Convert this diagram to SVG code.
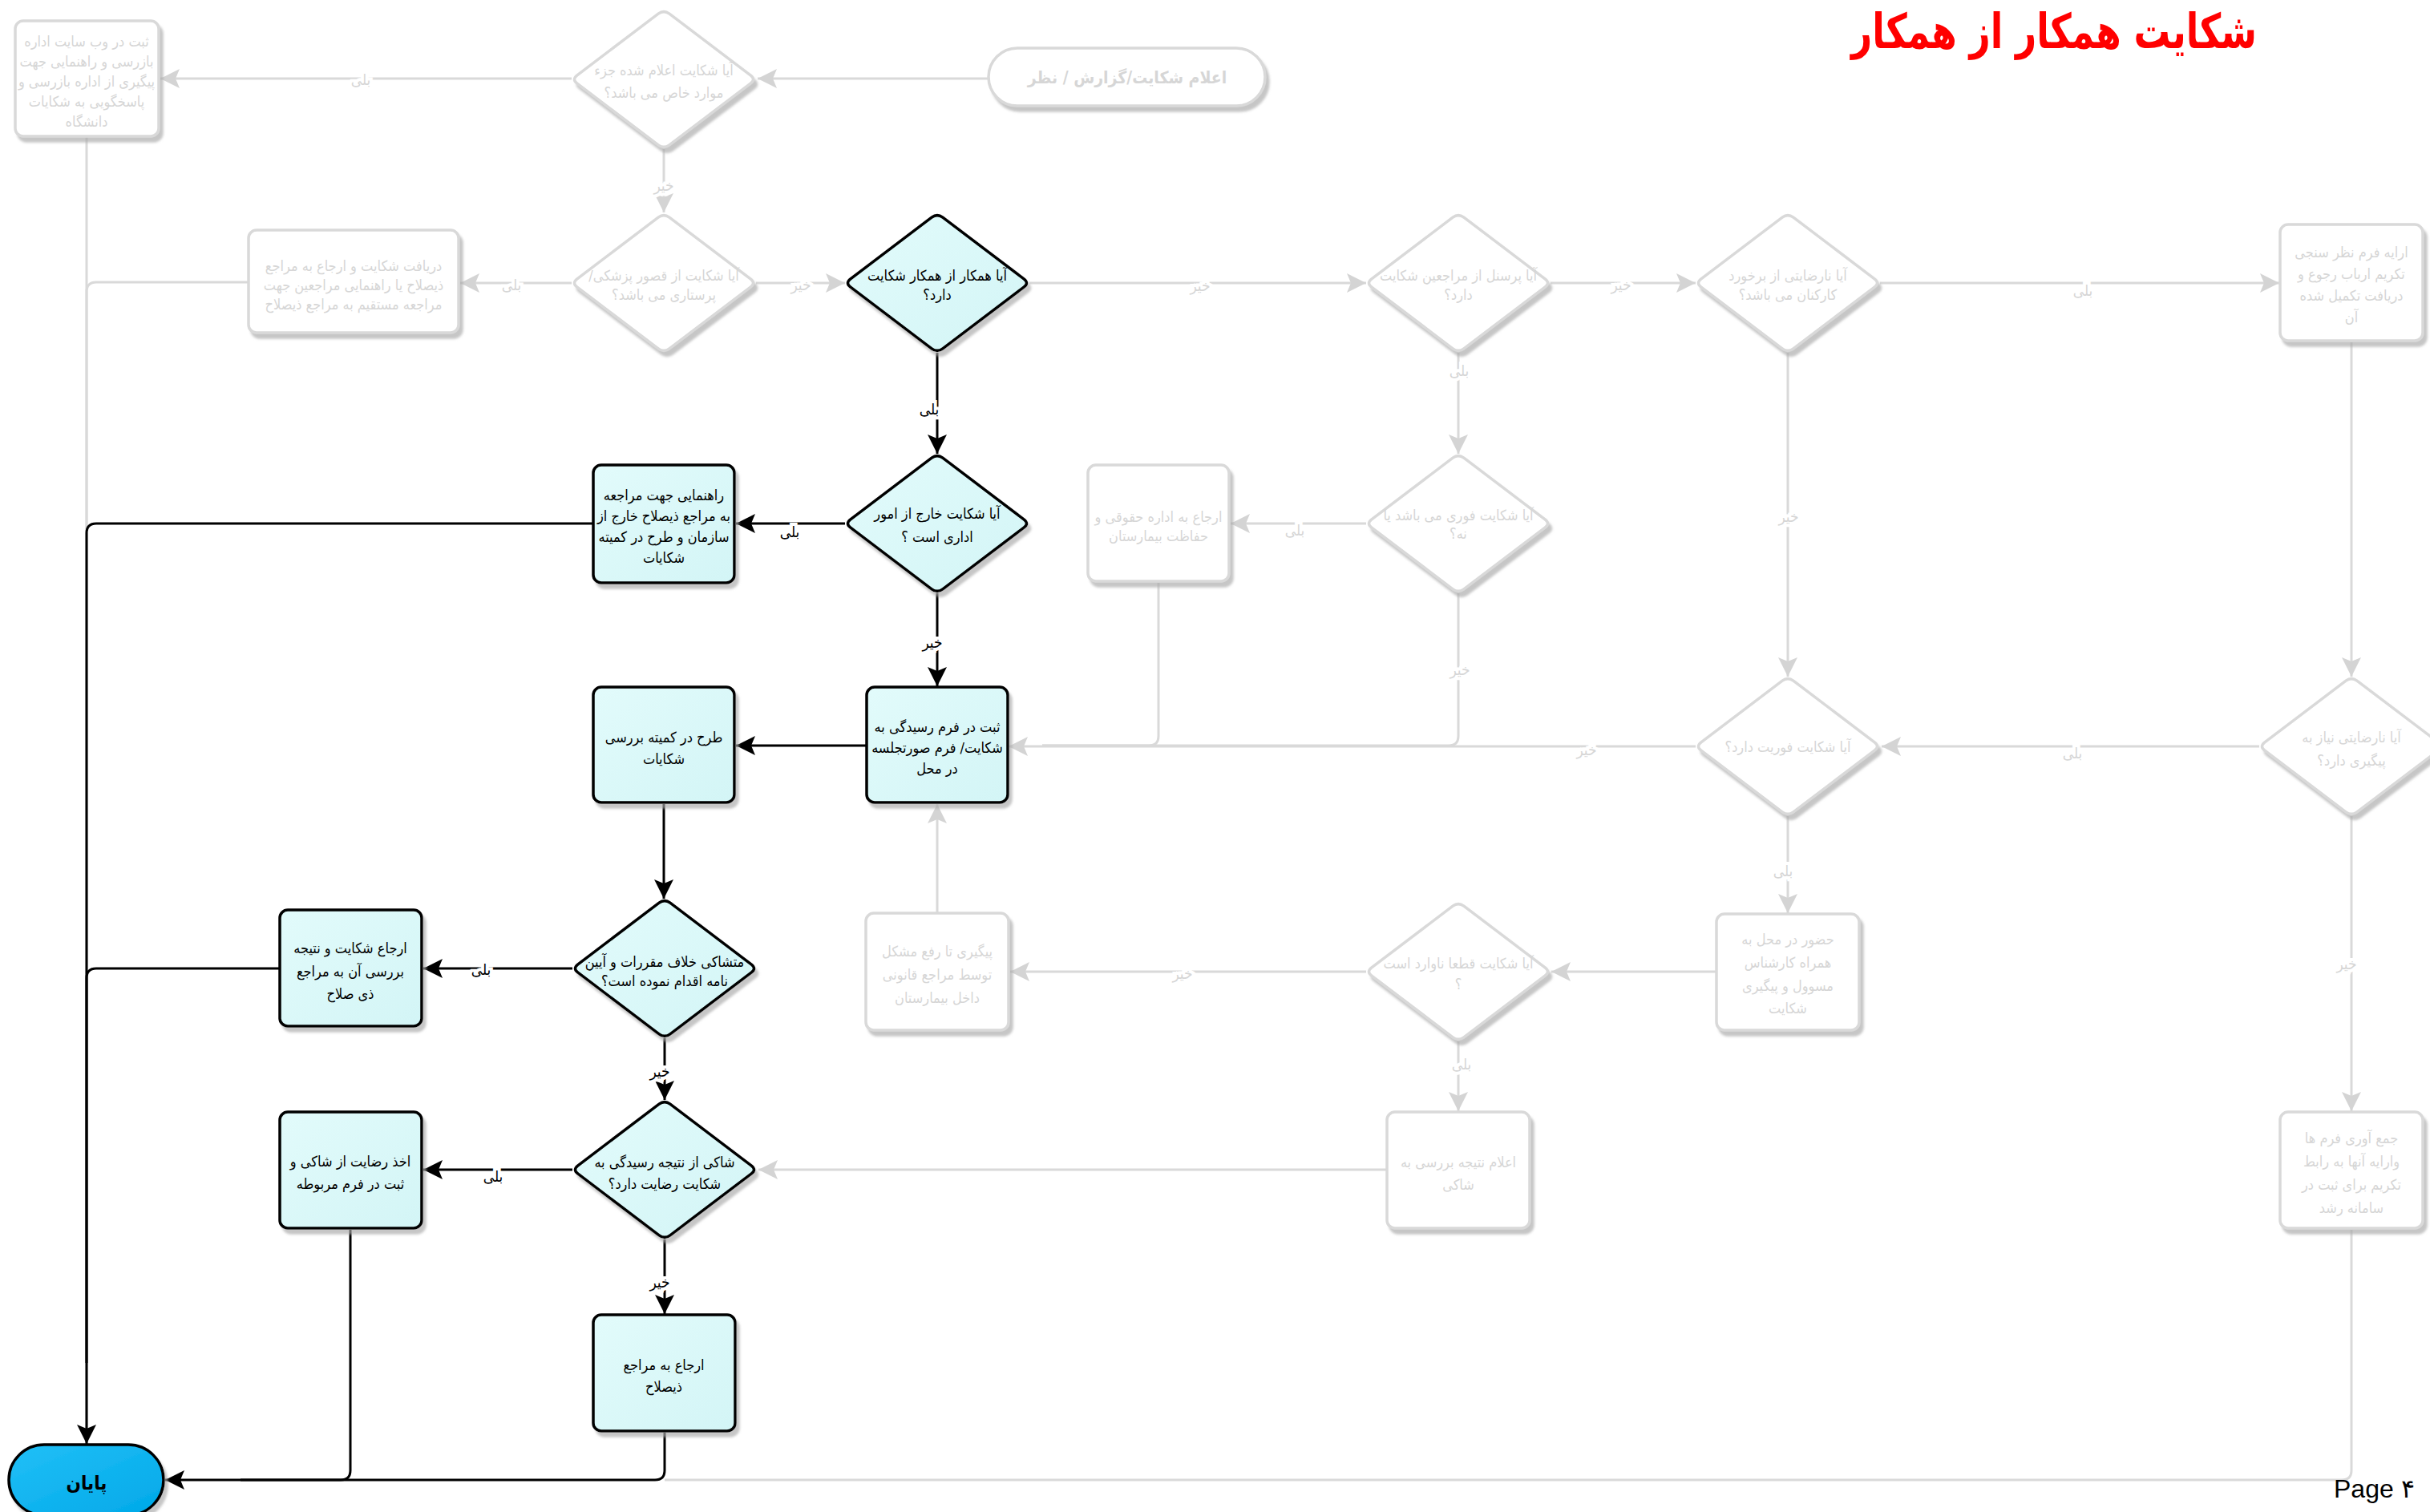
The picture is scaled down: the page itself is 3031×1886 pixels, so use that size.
<svg xmlns="http://www.w3.org/2000/svg" width="3031" height="1886" viewBox="0 0 3031 1886">
<defs>
<style>
text{font-family:'DejaVu Sans Condensed','DejaVu Sans',sans-serif;direction:rtl;text-anchor:middle}
.tb{fill:#000;font-size:18px}
.tg{fill:#d6d6d6;font-size:18px}
.lb{fill:#000;font-size:19px;stroke:#fff;stroke-width:8;paint-order:stroke}
.lg{fill:#d6d6d6;font-size:19px;stroke:#fff;stroke-width:8;paint-order:stroke}
.nb{fill:url(#cy);stroke:#000;stroke-width:3.5;filter:url(#sh)}
.ng{fill:#fff;stroke:#d9d9d9;stroke-width:3.5;filter:url(#sh)}
.cg{fill:none;stroke:#d9d9d9;stroke-width:3}
.cb{fill:none;stroke:#000;stroke-width:3}
</style>
<linearGradient id="cy" x1="0" y1="0" x2="1" y2="1"><stop offset="0" stop-color="#e2fbfb"/><stop offset="1" stop-color="#d3f5f6"/></linearGradient>
<linearGradient id="bl" x1="0" y1="0" x2="1" y2="1"><stop offset="0" stop-color="#22c0f7"/><stop offset="1" stop-color="#00a8e8"/></linearGradient>
<filter id="sh" x="-10%" y="-10%" width="130%" height="130%"><feDropShadow dx="4" dy="6" stdDeviation="1.5" flood-color="#a8a8a8" flood-opacity="0.65"/></filter>
<path id="dia" d="M6.9,-81.8 L108.1,-5.2 Q115,0 108.1,5.2 L6.9,81.8 Q0,87 -6.9,81.8 L-108.1,5.2 Q-115,0 -108.1,-5.2 L-6.9,-81.8 Q0,-87 6.9,-81.8 Z"/>
<marker id="ab" markerUnits="userSpaceOnUse" markerWidth="26" markerHeight="26" refX="24" refY="12" orient="auto" viewBox="0 0 26 26"><path d="M0,0 L24,12 L0,24 L5,12 Z" fill="#000"/></marker>
<marker id="ag" markerUnits="userSpaceOnUse" markerWidth="26" markerHeight="26" refX="24" refY="12" orient="auto" viewBox="0 0 26 26"><path d="M0,0 L24,12 L0,24 L5,12 Z" fill="#d4d4d4"/></marker>
</defs>
<rect width="3031" height="1886" fill="#fff"/>
<text x="2562" y="60" textLength="506" lengthAdjust="spacingAndGlyphs" style="font-size:60px;font-weight:bold;fill:#ff0000">شکایت همکار از همکار</text>

<g id="connectors">
<path class="cg" d="M108,170 V1800"/>
<path class="cg" d="M310,352 H120 Q108,352 108,364 V1800"/>
<path class="cg" d="M1233,98 H945" marker-end="url(#ag)"/>
<path class="cg" d="M713,98 H200" marker-end="url(#ag)"/>
<path class="cg" d="M828,186 V265" marker-end="url(#ag)"/>
<path class="cg" d="M713,353 H574" marker-end="url(#ag)"/>
<path class="cg" d="M943,353 H1054" marker-end="url(#ag)"/>
<path class="cg" d="M1284,353 H1704" marker-end="url(#ag)"/>
<path class="cg" d="M1934,353 H2115" marker-end="url(#ag)"/>
<path class="cg" d="M2345,353 H2843" marker-end="url(#ag)"/>
<path class="cg" d="M1819,440 V566" marker-end="url(#ag)"/>
<path class="cg" d="M1704,653 H1535" marker-end="url(#ag)"/>
<path class="cg" d="M1445,727 V918 Q1445,930 1433,930 H1300"/>
<path class="cg" d="M1819,740 V918 Q1819,930 1807,930 H1300"/>
<path class="cg" d="M2115,931 H1258" marker-end="url(#ag)"/>
<path class="cg" d="M2230,440 V844" marker-end="url(#ag)"/>
<path class="cg" d="M2933,427 V844" marker-end="url(#ag)"/>
<path class="cg" d="M2818,931 H2347" marker-end="url(#ag)"/>
<path class="cg" d="M2933,1018 V1386" marker-end="url(#ag)"/>
<path class="cg" d="M2230,1018 V1139" marker-end="url(#ag)"/>
<path class="cg" d="M2141,1212 H1935" marker-end="url(#ag)"/>
<path class="cg" d="M1704,1212 H1260" marker-end="url(#ag)"/>
<path class="cg" d="M1169,1139 V1003" marker-end="url(#ag)"/>
<path class="cg" d="M1819,1299 V1386" marker-end="url(#ag)"/>
<path class="cg" d="M1730,1459 H946" marker-end="url(#ag)"/>
<path class="cg" d="M2933,1534 V1834 Q2933,1846 2921,1846 H829"/>

<path class="cb" d="M1169,440 V566" marker-end="url(#ab)"/>
<path class="cb" d="M1054,653 H918" marker-end="url(#ab)"/>
<path class="cb" d="M740,653 H120 Q108,653 108,665 V1801" marker-end="url(#ab)"/>
<path class="cb" d="M1169,740 V856" marker-end="url(#ab)"/>
<path class="cb" d="M1081,930 H918" marker-end="url(#ab)"/>
<path class="cb" d="M828,1003 V1121" marker-end="url(#ab)"/>
<path class="cb" d="M714,1208 H528" marker-end="url(#ab)"/>
<path class="cb" d="M349,1208 H120 Q108,1208 108,1220 V1700"/>
<path class="cb" d="M829,1295 V1372" marker-end="url(#ab)"/>
<path class="cb" d="M714,1459 H528" marker-end="url(#ab)"/>
<path class="cb" d="M829,1546 V1639" marker-end="url(#ab)"/>
<path class="cb" d="M437,1534 V1834 Q437,1846 425,1846 H300"/>
<path class="cb" d="M829,1787 V1834 Q829,1846 817,1846 H206" marker-end="url(#ab)"/>

<text class="lg" x="450" y="106">بلی</text>
<text class="lg" x="828" y="238">خیر</text>
<text class="lg" x="638" y="362">بلی</text>
<text class="lg" x="999" y="362">خیر</text>
<text class="lg" x="1497" y="363">خیر</text>
<text class="lg" x="2022" y="362">خیر</text>
<text class="lg" x="2598" y="369">بلی</text>
<text class="lg" x="1820" y="469">بلی</text>
<text class="lg" x="1615" y="668">بلی</text>
<text class="lg" x="1821" y="842">خیر</text>
<text class="lg" x="1979" y="942">خیر</text>
<text class="lg" x="2231" y="651">خیر</text>
<text class="lg" x="2585" y="946">بلی</text>
<text class="lg" x="2927" y="1209">خیر</text>
<text class="lg" x="2224" y="1093">بلی</text>
<text class="lg" x="1475" y="1221">خیر</text>
<text class="lg" x="1823" y="1334">بلی</text>
<text class="lb" x="1159" y="517">بلی</text>
<text class="lb" x="985" y="670">بلی</text>
<text class="lb" x="1163" y="808">خیر</text>
<text class="lb" x="600" y="1216">بلی</text>
<text class="lb" x="823" y="1343">خیر</text>
<text class="lb" x="615" y="1474">بلی</text>
<text class="lb" x="823" y="1606">خیر</text>
</g>

<g id="start"><rect class="ng" x="1233" y="60" width="345" height="72" rx="36"/><text class="tg" x="1406" y="104" style="font-size:21px;font-weight:bold">اعلام شکایت/گزارش / نظر</text></g>

<g id="d1"><use href="#dia" class="ng" x="828" y="99"/><text class="tg" x="828" y="94">آیا شکایت اعلام شده جزء</text><text class="tg" x="828" y="122">موارد خاص می باشد؟</text></g>
<g id="b1"><rect class="ng" x="19" y="26" width="179" height="144" rx="10"/><text class="tg" x="108" y="58">ثبت در وب سایت اداره</text><text class="tg" x="108" y="83">بازرسی و راهنمایی جهت</text><text class="tg" x="108" y="108">پیگیری از اداره بازرسی و</text><text class="tg" x="108" y="133">پاسخگویی به شکایات</text><text class="tg" x="108" y="158">دانشگاه</text></g>
<g id="d2"><use href="#dia" class="ng" x="828" y="353"/><text class="tg" x="828" y="350">آیا شکایت از قصور پزشکی/</text><text class="tg" x="828" y="374">پرستاری می باشد؟</text></g>
<g id="b2"><rect class="ng" x="310" y="287" width="262" height="128" rx="10"/><text class="tg" x="441" y="338">دریافت شکایت و ارجاع به مراجع</text><text class="tg" x="441" y="362">ذیصلاح یا راهنمایی مراجعین جهت</text><text class="tg" x="441" y="386">مراجعه مستقیم به مراجع ذیصلاح</text></g>
<g id="d3"><use href="#dia" class="nb" x="1169" y="353"/><text class="tb" x="1169" y="350">آیا همکار از همکار شکایت</text><text class="tb" x="1169" y="374">دارد؟</text></g>
<g id="d4"><use href="#dia" class="ng" x="1819" y="353"/><text class="tg" x="1819" y="350">آیا پرسنل از مراجعین شکایت</text><text class="tg" x="1819" y="374">دارد؟</text></g>
<g id="d5"><use href="#dia" class="ng" x="2230" y="353"/><text class="tg" x="2230" y="350">آیا نارضایتی از برخورد</text><text class="tg" x="2230" y="374">کارکنان می باشد؟</text></g>
<g id="b3"><rect class="ng" x="2844" y="280" width="178" height="145" rx="10"/><text class="tg" x="2933" y="321">ارایه فرم نظر سنجی</text><text class="tg" x="2933" y="348">تکریم ارباب رجوع و</text><text class="tg" x="2933" y="375">دریافت تکمیل شده</text><text class="tg" x="2933" y="402">آن</text></g>
<g id="d7"><use href="#dia" class="nb" x="1169" y="653"/><text class="tb" x="1169" y="647">آیا شکایت خارج از امور</text><text class="tb" x="1169" y="676">اداری است ؟</text></g>
<g id="b7"><rect class="nb" x="740" y="580" width="176" height="147" rx="10"/><text class="tb" x="828" y="624">راهنمایی جهت مراجعه</text><text class="tb" x="828" y="650">به مراجع ذیصلاح خارج از</text><text class="tb" x="828" y="676">سازمان و طرح در کمیته</text><text class="tb" x="828" y="702">شکایات</text></g>
<g id="b4"><rect class="ng" x="1357" y="580" width="176" height="145" rx="10"/><text class="tg" x="1445" y="651">ارجاع به اداره حقوقی و</text><text class="tg" x="1445" y="675">حفاظت بیمارستان</text></g>
<g id="d8"><use href="#dia" class="ng" x="1819" y="653"/><text class="tg" x="1819" y="649">آیا شکایت فوری  می باشد یا</text><text class="tg" x="1819" y="672">نه؟</text></g>
<g id="b5"><rect class="nb" x="1081" y="857" width="176" height="144" rx="10"/><text class="tb" x="1169" y="913">ثبت در فرم رسیدگی به</text><text class="tb" x="1169" y="939">شکایت/  فرم صورتجلسه</text><text class="tb" x="1169" y="965">در محل</text></g>
<g id="b6"><rect class="nb" x="740" y="857" width="176" height="144" rx="10"/><text class="tb" x="828" y="926">طرح در کمیته بررسی</text><text class="tb" x="828" y="953">شکایات</text></g>
<g id="d9"><use href="#dia" class="ng" x="2230" y="931"/><text class="tg" x="2230" y="938">آیا شکایت فوریت دارد؟</text></g>
<g id="d6"><use href="#dia" class="ng" x="2933" y="931"/><text class="tg" x="2933" y="926">آیا نارضایتی نیاز به</text><text class="tg" x="2933" y="955">پیگیری دارد؟</text></g>
<g id="d10"><use href="#dia" class="nb" x="829" y="1208"/><text class="tb" x="829" y="1206">متشاکی خلاف مقررات و آیین</text><text class="tb" x="829" y="1230">نامه اقدام نموده  است؟</text></g>
<g id="b8"><rect class="nb" x="349" y="1135" width="177" height="145" rx="10"/><text class="tb" x="437" y="1189">ارجاع شکایت و نتیجه</text><text class="tb" x="437" y="1218">بررسی آن به مراجع</text><text class="tb" x="437" y="1246">ذی صلاح</text></g>
<g id="d11"><use href="#dia" class="nb" x="829" y="1459"/><text class="tb" x="829" y="1456">شاکی از نتیجه رسیدگی به</text><text class="tb" x="829" y="1483">شکایت رضایت دارد؟</text></g>
<g id="b9"><rect class="nb" x="349" y="1387" width="177" height="145" rx="10"/><text class="tb" x="437" y="1455">اخذ رضایت از شاکی و</text><text class="tb" x="437" y="1483">ثبت در فرم مربوطه</text></g>
<g id="b10"><rect class="nb" x="740" y="1640" width="177" height="145" rx="10"/><text class="tb" x="828" y="1709">ارجاع به مراجع</text><text class="tb" x="828" y="1736">ذیصلاح</text></g>
<g id="b13"><rect class="ng" x="1080" y="1139" width="178" height="146" rx="10"/><text class="tg" x="1169" y="1193">پیگیری تا رفع مشکل</text><text class="tg" x="1169" y="1222">توسط مراجع قانونی</text><text class="tg" x="1169" y="1251">داخل بیمارستان</text></g>
<g id="d12"><use href="#dia" class="ng" x="1819" y="1212"/><text class="tg" x="1819" y="1208">آیا شکایت قطعا ناوارد است</text><text class="tg" x="1819" y="1234">؟</text></g>
<g id="b12"><rect class="ng" x="2141" y="1140" width="178" height="145" rx="10"/><text class="tg" x="2230" y="1178">حضور در محل به</text><text class="tg" x="2230" y="1207">همراه کارشناس</text><text class="tg" x="2230" y="1236">مسوول و پیگیری</text><text class="tg" x="2230" y="1264">شکایت</text></g>
<g id="b14"><rect class="ng" x="1730" y="1387" width="178" height="145" rx="10"/><text class="tg" x="1819" y="1456">اعلام نتیجه بررسی به</text><text class="tg" x="1819" y="1484">شاکی</text></g>
<g id="b11"><rect class="ng" x="2844" y="1387" width="178" height="145" rx="10"/><text class="tg" x="2933" y="1426">جمع آوری فرم ها</text><text class="tg" x="2933" y="1455">وارایه آنها به رابط</text><text class="tg" x="2933" y="1484">تکریم برای ثبت در</text><text class="tg" x="2933" y="1513">سامانه رشد</text></g>
<g id="end"><rect x="11" y="1802" width="193" height="88" rx="44" fill="url(#bl)" stroke="#000" stroke-width="3.5" filter="url(#sh)"/><text x="108" y="1858" style="font-size:24px;font-weight:bold;fill:#000">پایان</text></g>

<text x="2911" y="1868" style="font-family:'Liberation Sans',sans-serif;font-size:32px;direction:ltr;text-anchor:start;fill:#000">Page ۴</text>
</svg>
